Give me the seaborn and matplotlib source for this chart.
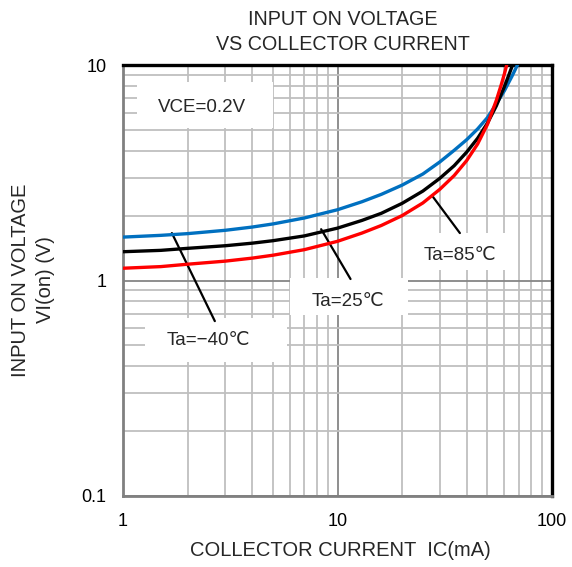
import numpy as np
import pandas as pd
import matplotlib
matplotlib.use("Agg")
import matplotlib.pyplot as plt
import seaborn as sns
from matplotlib.patches import Rectangle
from matplotlib.ticker import FixedLocator, FixedFormatter, LogLocator, NullFormatter

# ---- data ----
ic_m40 = [1, 1.5, 2, 3, 4, 5, 7, 10, 13, 16, 20, 25, 30, 35, 40, 45, 50, 55, 60, 65, 69]
vi_m40 = [1.59, 1.62, 1.65, 1.71, 1.77, 1.83, 1.95, 2.13, 2.32, 2.51, 2.77, 3.12, 3.55,
          4.02, 4.5, 5.05, 5.7, 6.6, 7.6, 8.85, 10.0]
ic_25 = [1, 1.5, 2, 3, 4, 5, 7, 10, 13, 16, 20, 25, 30, 35, 40, 45, 50, 55, 60, 63, 65.5]
vi_25 = [1.36, 1.38, 1.41, 1.45, 1.49, 1.53, 1.61, 1.75, 1.90, 2.05, 2.28, 2.60, 2.98,
         3.41, 3.94, 4.57, 5.37, 6.46, 7.94, 9.02, 10.0]
ic_85 = [1, 1.5, 2, 3, 4, 5, 7, 10, 13, 16, 20, 25, 30, 35, 40, 45, 50, 55, 58, 60, 61.5]
vi_85 = [1.14, 1.16, 1.19, 1.23, 1.27, 1.31, 1.39, 1.52, 1.66, 1.80, 2.00, 2.29, 2.65,
         3.07, 3.6, 4.3, 5.3, 6.85, 8.1, 9.1, 10.0]

series_names = ["Ta=−40℃", "Ta=25℃", "Ta=85℃"]
series_colors = ["#0070C0", "#000000", "#FF0000"]

x_ticks = [1, 10, 100]
x_tick_labels = ["1", "10", "100"]
y_ticks = [0.1, 1, 10]
y_tick_labels = ["0.1", "1", "10"]

title_text = "INPUT ON VOLTAGE\nVS COLLECTOR CURRENT"
xlabel_text = "COLLECTOR CURRENT  IC(mA)"
ylabel_text = "INPUT ON VOLTAGE\nVI(on) (V)"
cond_text = "VCE=0.2V"

df = pd.concat([
    pd.DataFrame({"Ic": ic_m40, "Vi": vi_m40, "Ta": series_names[0]}),
    pd.DataFrame({"Ic": ic_25, "Vi": vi_25, "Ta": series_names[1]}),
    pd.DataFrame({"Ic": ic_85, "Vi": vi_85, "Ta": series_names[2]}),
], ignore_index=True)

# ---- style ----
sns.set_style("white")
plt.rcParams["font.family"] = ["Liberation Sans", "DejaVu Sans"]

W, H = 572, 567
fig = plt.figure(figsize=(W / 100, H / 100), dpi=100)
L, R, T, B = 123, 552, 65, 496
ax = fig.add_axes([L / W, 1 - B / H, (R - L) / W, (B - T) / H])
ax.set_xscale("log")
ax.set_yscale("log")
ax.set_xlim(1, 100)
ax.set_ylim(0.1, 10)
ax.set_axisbelow(True)

ax.xaxis.set_major_locator(FixedLocator(x_ticks))
ax.xaxis.set_major_formatter(FixedFormatter(x_tick_labels))
ax.yaxis.set_major_locator(FixedLocator(y_ticks))
ax.yaxis.set_major_formatter(FixedFormatter(y_tick_labels))
ax.xaxis.set_minor_locator(LogLocator(base=10, subs=np.arange(2, 10)))
ax.yaxis.set_minor_locator(LogLocator(base=10, subs=np.arange(2, 10)))
ax.xaxis.set_minor_formatter(NullFormatter())
ax.yaxis.set_minor_formatter(NullFormatter())
ax.grid(which="minor", color="#BFBFBF", linewidth=1.3)
ax.grid(which="major", color="#868686", linewidth=1.3)
ax.tick_params(which="minor", length=0)
ax.tick_params(which="major", length=5, width=1, color="#868686", direction="out",
               labelsize=13, labelcolor="black")
ax.tick_params(axis="x", pad=7)
ax.tick_params(axis="y", pad=7)

for s in ["left", "bottom"]:
    ax.spines[s].set_color("#808080")
    ax.spines[s].set_linewidth(2.0)
for s in ["top", "right"]:
    ax.spines[s].set_color("black")
    ax.spines[s].set_linewidth(2.4)

# white label boxes (hide the grid)
boxes = [
    (1.162, 5.0, 5.1, 8.34),      # VCE
    (1.266, 5.82, 0.419, 0.670),  # -40
    (6.0, 21.3, 0.691, 1.027),    # 25
    (20.6, 67.0, 1.12, 1.66),     # 85
]
for x0, x1, y0, y1 in boxes:
    ax.add_patch(Rectangle((x0, y0), x1 - x0, y1 - y0, facecolor="white",
                           edgecolor="none", zorder=1.2))

# curves
sns.lineplot(data=df, x="Ic", y="Vi", hue="Ta", hue_order=series_names,
             palette=dict(zip(series_names, series_colors)), linewidth=2.4,
             legend=False, ax=ax, zorder=3, estimator=None, sort=False)

# leader lines
leaders = [
    ((1.69, 2.68), (1.66, 0.648)),
    ((8.39, 11.5), (1.73, 1.016)),
    ((27.9, 37.2), (2.44, 1.66)),
]
for xs, ys in leaders:
    ax.plot(xs, ys, color="black", linewidth=1.6, zorder=2.5)

# texts
fs = 13.5
ax.text(2.33, 6.38, cond_text, ha="center", va="center", fontsize=fs, zorder=4)
ax.text(2.49, 0.524, series_names[0], ha="center", va="center", fontsize=fs, zorder=4)
ax.text(11.2, 0.80, series_names[1], ha="center", va="center", fontsize=fs, zorder=4)
ax.text(37.2, 1.30, series_names[2], ha="center", va="center", fontsize=fs, zorder=4)

ax.set_xlabel("")
ax.set_ylabel("")
fl = 14.5
fig.text(343 / W, 1 - 32 / H, title_text, ha="center", va="center",
         fontsize=14.2, linespacing=1.45, multialignment="center")
fig.text(340 / W, 1 - 551 / H, xlabel_text, ha="center", va="center", fontsize=fl)
fig.text(33 / W, 1 - 280 / H, ylabel_text, ha="center", va="center", rotation=90,
         fontsize=fl, linespacing=1.4, multialignment="center")

fig.savefig("out.png", dpi=100)
